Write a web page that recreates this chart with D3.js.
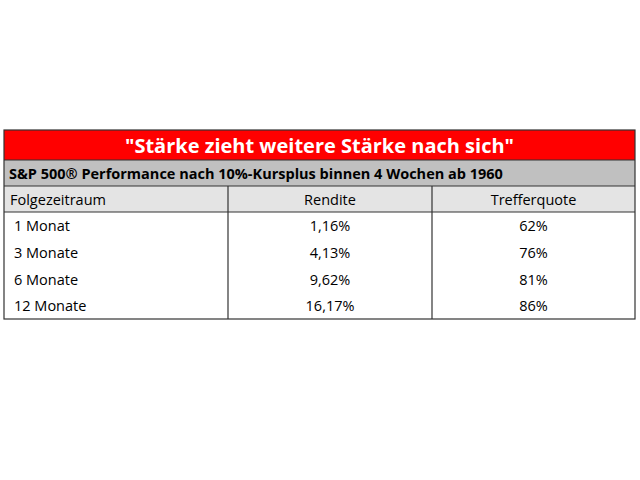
<!DOCTYPE html>
<html><head><meta charset="utf-8">
<script src="https://cdn.jsdelivr.net/npm/d3@7"></script>
<style>body{margin:0;background:#fff}</style>
</head><body><svg id="chart" width="640" height="480"></svg>
<script>
const title = '"Stärke zieht weitere Stärke nach sich"';
const subtitle = "S&P 500® Performance nach 10%-Kursplus binnen 4 Wochen ab 1960";
const headers = ["Folgezeitraum", "Rendite", "Trefferquote"];
const periods = ["1 Monat", "3 Monate", "6 Monate", "12 Monate"];
const rendite = ["1,16%", "4,13%", "9,62%", "16,17%"];
const trefferquote = ["62%", "76%", "81%", "86%"];

const svg = d3.select("#chart");
const font = "'Open Sans', 'Liberation Sans', sans-serif";
const x0 = 4, x1 = 635, colX = [4, 228, 432, 635];
const y = d3.scaleLinear().domain([0, 4]).range([212, 319]);

// title row
svg.append("rect").attr("x", x0).attr("y", 130).attr("width", x1 - x0).attr("height", 30).attr("fill", "#ff0000");
svg.append("text").attr("x", (x0 + x1) / 2).attr("y", 153).attr("text-anchor", "middle")
  .attr("fill", "#fff").attr("font-family", font).attr("font-weight", "bold").attr("font-size", 20).text(title);
// subtitle row
svg.append("rect").attr("x", x0).attr("y", 160).attr("width", x1 - x0).attr("height", 26).attr("fill", "#c0c0c0");
svg.append("text").attr("x", 9).attr("y", 179).attr("font-family", font).attr("font-weight", "bold")
  .attr("font-size", 14.5).attr("fill", "#000").text(subtitle);
// header row
svg.append("rect").attr("x", x0).attr("y", 186).attr("width", x1 - x0).attr("height", 26).attr("fill", "#e4e4e4");

function cellText(row, yy) {
  row.forEach((t, i) => {
    const tx = i === 0 ? (yy < 212 ? 10 : 14) : (colX[i] + colX[i + 1]) / 2;
    svg.append("text").attr("x", tx).attr("y", yy)
      .attr("text-anchor", i === 0 ? "start" : "middle")
      .attr("font-family", font).attr("font-size", 14.5).attr("fill", "#000").text(t);
  });
}
cellText(headers, 205);
periods.forEach((p, i) => cellText([p, rendite[i], trefferquote[i]], y(i) + 19));

// grid lines
const g = svg.append("g").attr("stroke", "#333").attr("stroke-width", 1.2).attr("fill", "none");
g.append("rect").attr("x", x0).attr("y", 130).attr("width", x1 - x0).attr("height", 319 - 130);
[160, 186, 212].forEach(v => g.append("line").attr("x1", x0).attr("x2", x1).attr("y1", v).attr("y2", v));
[228, 432].forEach(v => g.append("line").attr("x1", v).attr("x2", v).attr("y1", 186).attr("y2", 319));
</script></body></html>
